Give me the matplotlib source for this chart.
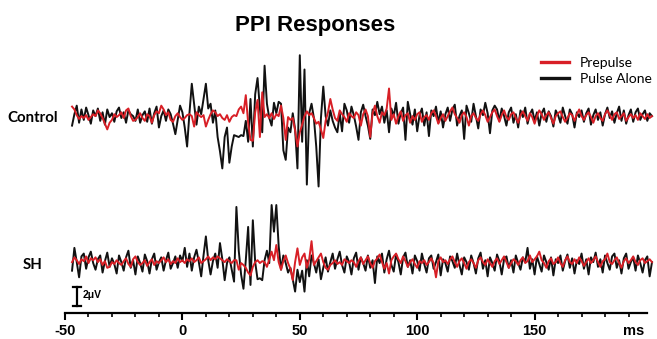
import numpy as np
import matplotlib
matplotlib.use("Agg")
import matplotlib.pyplot as plt
from matplotlib.lines import Line2D
from matplotlib.transforms import blended_transform_factory

plt.rcParams["axes.unicode_minus"] = False

# sample times (ms), one sample per ms
t_start, t_end = -47, 200

# Control, Pulse Alone (black), in uV
ctrl_pulse = [
    -0.8, 0.4, 1.3, -0.5, 0.9, -0.2, 1.1, 0.3, -0.6, 0.8,
    0.2, 1.0, -0.3, 0.6, -0.7, 0.9, 0.1, 0.5, -0.4, 0.7,
    1.1, 0.0, 0.6, -0.5, 0.8, 0.4, 0.2, -0.3, 0.9, -0.5,
    0.3, 0.7, -0.4, 1.0, -0.6, 0.5, 1.2, -1.0, 0.2, 0.8,
    -0.3, 0.9, 0.4, -0.6, -1.7, -0.2, 1.3, 0.6, -1.0, -3.0,
    0.5, 3.6, 1.5, -0.7, 1.2, 0.4, 2.0, 3.6, 1.0, 1.5,
    -0.5, 0.8, -2.0, -3.5, -5.3, -2.0, -1.0, -4.7, -3.0, -1.8,
    -1.9, -2.0, -1.8, -1.9, -0.3, -2.5, 2.0, -3.0, 2.5, 4.2,
    1.0, -1.5, 5.5, 1.5, 0.0, -0.8, 1.6, 0.5, 1.7, 1.5,
    -3.4, -4.4, -1.0, -1.5, 0.5, -1.2, -5.3, 6.6, -2.5, 5.1,
    -7.0, 0.5, 1.5, 0.0, -3.0, -7.2, 0.0, 3.3, 0.2, -0.8,
    0.8, -0.3, -1.0, -1.5, 0.5, -1.4, 1.5, 0.8, -0.5, 1.2,
    0.3, -0.9, -2.3, 0.6, 1.4, 0.2, -0.8, -2.2, 0.9, 0.3,
    1.7, 0.4, 1.2, -0.5, 0.8, -1.5, 1.0, 0.2, 1.6, -0.6,
    0.5, 1.1, -2.3, 1.7, 0.4, -0.7, 0.9, -1.4, 0.3, 1.0,
    -0.8, 0.6, -1.9, 0.8, 0.2, 1.2, -0.5, 0.7, -1.0, 0.4,
    1.1, -0.3, 0.9, 1.4, -0.8, 0.2, 0.8, -2.2, 1.3, 0.5,
    -0.4, 1.5, 0.2, -1.1, 0.9, 0.3, 1.6, 0.5, -1.6, 0.8,
    1.3, 0.9, -0.3, 1.0, 0.2, -0.8, 0.6, 1.1, -0.5, 0.4,
    -1.0, 0.8, 0.1, 1.1, -0.6, 0.4, 0.9, -0.3, 0.6, -0.8,
    0.5, 1.0, -0.4, 0.7, 0.2, -0.9, 0.8, 0.3, -0.5, 1.1,
    0.2, -0.6, 0.9, 0.4, -1.0, 0.6, 0.1, 0.8, -0.4, 0.5,
    1.0, -0.7, 0.3, 0.9, -0.2, 0.6, -0.8, 0.4, 1.1, 0.0,
    0.7, -0.5, 0.5, 1.2, -0.3, 0.8, -0.6, 0.3, 0.9, -0.4,
    0.6, 1.0, -0.2, 0.4, 0.8, -0.3, 0.5, 0.2,
]

# Control, Prepulse (red)
ctrl_prepulse = [
    1.2, 0.9, 0.3, -0.1, 0.2, 0.0, 0.3, -0.2, 0.1, 0.4,
    0.2, 0.8, 0.5, 0.0, -0.6, -1.2, -0.5, -0.2, 0.4, 0.1,
    0.3, 0.6, 0.0, 0.8, 1.0, 0.2, -0.3, -0.2, 0.1, 0.5,
    0.0, -0.3, 0.4, 0.2, -0.5, 0.3, 0.7, 0.5, 1.3, 0.9,
    0.3, 0.6, -0.2, -0.4, 0.2, 0.5, 0.1, -0.2, 0.0, 0.3,
    0.4, 0.2, -0.9, 0.6, 0.3, 0.1, 0.3, -0.9, -0.2, 0.4,
    0.8, 0.6, 0.2, 0.4, 0.0, -0.2, 0.3, -0.4, 0.1, 0.3,
    0.2, 0.9, 1.2, 0.5, 2.4, -0.5, -2.3, -2.4, 0.6, 1.9,
    -2.0, 2.7, 0.1, 0.4, 0.0, 0.5, -0.1, 0.4, 0.2, 1.3,
    0.0, -2.3, 0.1, -0.2, 0.0, -1.3, -3.0, -1.5, -0.7, 0.2,
    0.7, 0.3, 0.5, 0.0, -0.6, -0.4, -1.2, -2.1, -0.3, 0.6,
    2.0, 0.9, 0.0, -0.3, 0.8, 0.4, 0.1, -0.4, 0.5, 0.2,
    0.0, 0.6, 0.3, -0.8, 0.4, 0.9, 0.2, -2.0, 0.5, 1.3,
    0.2, -0.5, 0.6, 0.3, 1.0, 3.1, -0.2, 0.4, -0.6, 0.2,
    0.7, -0.3, 0.3, 0.5, -0.5, 0.2, -0.2, 0.4, 0.6, -0.4,
    0.1, 0.3, -0.2, 0.5, 0.8, 0.2, -0.6, 0.0, 0.4, -0.3,
    0.2, 0.7, 1.1, 0.4, 0.0, -0.5, 0.3, 0.6, 0.1, -0.8,
    0.2, 0.5, 0.0, -0.3, 0.4, 0.8, 0.3, -0.4, 0.1, 0.6,
    0.9, 0.2, -0.4, 0.3, 0.8, 0.1, -0.2, 0.4, 0.6, 0.0,
    -0.5, 0.3, 0.7, 0.2, -0.3, 0.5, 0.1, -0.6, 0.2, 0.8,
    0.4, -0.2, 0.3, 0.6, 0.0, -0.6, 0.2, 0.5, 0.7, 0.1,
    -0.4, 0.0, 0.5, 0.3, -0.3, 0.4, 0.9, 0.2, -0.2, 0.3,
    0.6, 0.1, -0.5, 0.2, 0.5, 0.0, -0.3, 0.4, 0.8, 0.3,
    -0.2, 0.4, 0.6, -0.1, 0.2, 0.5, -0.3, 0.1, 0.4, 0.0,
    0.3, -0.2, 0.5, 0.2, -0.1, 0.4, 0.0, 0.2,
]

# SH, Pulse Alone (black)
sh_pulse = [
    -0.6, 1.8, 0.3, -1.3, 0.9, 1.2, -0.4, 0.8, 1.4, 0.2,
    -0.5, 0.6, 1.0, -0.8, 0.4, 1.3, -0.2, 0.7, 0.1, -0.9,
    1.0, 0.3, -0.6, 0.8, 1.5, -0.3, 0.5, -1.0, 0.9, 0.2,
    -0.7, 1.1, 0.4, -0.9, 0.6, 1.2, -0.5, 0.3, 0.8, -0.6,
    0.5, 1.3, -0.4, 0.2, 0.9, -0.3, 1.0, 0.4, 1.8, -0.2,
    1.2, -0.6, 0.8, 1.6, 0.3, -1.2, 1.0, 3.0, 0.5, -1.0,
    0.4, 1.2, -0.3, 2.3, 0.6, -1.6, 0.2, 0.8, -0.5, -1.75,
    6.1, 1.5, -1.0, -2.5, 0.5, 4.0, -2.1, 4.7, 0.3, -1.5,
    -1.4, -1.6, 0.5, 1.5, 0.2, 6.3, 3.5, 6.3, 2.0, -0.5,
    1.0, 0.2, -0.8, -0.3, -1.5, -2.8, -0.5, -1.8, -0.6, -2.8,
    0.5, -1.2, 1.0, 0.2, -0.8, 0.6, -1.5, -0.3, 0.8, -0.7,
    0.3, 1.2, -0.4, 0.6, 1.4, 0.0, -0.8, 0.9, 0.3, -1.0,
    0.7, 1.3, -0.5, 0.8, 0.2, -0.6, 1.0, -0.3, 0.5, -1.9,
    0.9, 0.2, 1.2, -0.8, 0.6, 1.5, 0.0, -0.7, 1.1, 0.3,
    -1.0, 0.8, 1.3, -0.2, 0.5, -0.9, 1.0, 0.4, -0.6, 1.2,
    0.1, -0.8, 0.7, 1.0, -0.4, 0.3, 1.1, -1.1, 0.6, 0.2,
    -0.7, 0.9, 0.4, -0.3, 1.2, 0.0, -1.0, 0.8, 0.3, -0.5,
    1.0, 0.2, -0.9, 0.7, 1.3, -0.4, 0.5, -1.2, 0.8, 0.2,
    -0.6, 1.1, 0.4, -1.0, 0.6, 0.9, -0.3, 0.5, -0.8, 1.0,
    0.2, -0.5, 0.8, 0.3, 1.8, -0.4, 0.6, -1.0, 0.9, 0.1,
    -0.7, 1.0, 0.3, -0.5, 0.8, -1.1, 0.6, 0.2, 1.0, -0.6,
    0.4, 1.1, -0.3, 0.7, -0.9, 0.5, 0.1, 1.2, -0.4, 0.6,
    -1.0, 0.8, 0.3, 1.3, -0.2, 0.6, -0.8, 1.0, 0.2, -0.5,
    0.9, 1.2, -0.3, 0.5, -0.9, 0.7, 1.2, -0.4, 0.3, 0.8,
    -0.6, 1.0, 0.2, -0.8, 0.5, 0.9, -1.2, 0.3,
]

# SH, Prepulse (red)
sh_prepulse = [
    0.3, 0.8, 0.5, 0.1, 0.6, 0.4, 0.9, 0.2, 0.7, 0.5,
    0.8, 0.3, 0.6, 0.0, 0.4, -0.3, -0.2, 0.3, 0.1, 0.5,
    0.2, 0.0, 0.4, 0.7, 0.1, -0.2, 0.6, 0.9, 0.3, 0.0,
    0.2, 0.5, -0.1, 0.3, 0.6, 0.0, 0.4, 0.2, 0.5, 0.8,
    0.3, 0.6, 0.1, 0.4, 0.2, 0.7, 0.3, 0.5, 0.2, 0.6,
    0.4, 0.7, 0.3, 0.5, 0.8, 0.2, 0.4, 0.6, 0.9, 0.5,
    0.8, 0.6, 0.9, 0.7, 0.5, 0.3, 0.6, 0.4, 0.2, 0.5,
    0.5, -0.5, 0.2, 0.0, -0.3, -0.8, -1.1, -0.2, 0.3, 0.5,
    0.2, 0.4, 0.3, -0.2, 0.6, 1.4, 0.5, 2.1, 0.3, -0.5,
    0.4, 1.0, 0.2, -0.4, -1.6, 0.3, 1.75, 0.0, 0.8, 1.2,
    -0.3, 0.6, 2.5, 0.0, 0.4, 0.8, 1.2, 0.3, -0.3, -0.5,
    0.0, 0.2, 0.5, 0.1, 0.3, 0.0, 0.6, 0.4, 0.2, 0.5,
    0.3, -0.2, 0.4, 0.8, 0.1, 0.5, 0.9, 0.2, -0.3, 0.4,
    0.7, 1.1, 0.3, -0.4, 0.2, -0.9, 0.5, 0.9, 1.2, 0.6,
    0.2, 0.9, 0.4, -0.2, 0.3, 0.6, 0.1, -0.3, 0.4, 0.2,
    0.5, 0.0, 0.3, 0.7, 0.2, -1.3, 0.4, 0.8, 0.3, 0.5,
    0.1, 0.6, 0.9, 0.3, -0.2, 0.4, 0.7, 0.2, -0.4, 0.3,
    0.6, 0.2, -0.3, 0.5, 0.8, 0.3, 0.0, 0.6, 0.2, -0.2,
    0.4, 0.7, 0.1, 0.5, 0.9, 0.3, -0.3, 0.2, 0.6, 0.4,
    0.0, 0.5, 0.8, 0.2, 0.4, 1.0, 0.3, 0.6, 0.9, 1.4,
    0.5, 0.2, -0.3, 0.4, 0.7, 0.1, 0.3, 0.8, 0.2, -0.2,
    0.5, 0.9, 0.3, 0.1, 0.6, 0.2, 0.8, 0.4, -0.1, 0.3,
    0.7, 0.2, 0.5, 0.9, 0.3, -0.2, 0.4, 0.6, 1.2, 0.3,
    0.1, 0.5, 0.8, 0.2, -0.3, 0.4, 0.7, 0.2, 0.5, 0.9,
    0.3, 0.0, 0.5, 0.7, 0.2, 0.4, 0.6, 0.3,
]

group_names = ["Control", "SH"]
group_offsets = [20.5, 5.05]   # vertical baseline of each group, uV above the axis
series_labels = ["Prepulse", "Pulse Alone"]
series_colors = ["#d81f26", "#111111"]
x_ticks = [-50, 0, 50, 100, 150]
scale_bar_uv = 2

t = np.arange(t_start, t_end + 1)

fig = plt.figure(figsize=(6.57, 3.39), dpi=100)
ax = fig.add_axes([65 / 657, 1 - 313 / 339, 587 / 657, 273 / 339])

groups = [(ctrl_prepulse, ctrl_pulse), (sh_prepulse, sh_pulse)]
for (pre, pa), off in zip(groups, group_offsets):
    ax.plot(t, np.array(pa) + off, color=series_colors[1], lw=1.4, clip_on=False)
    ax.plot(t, np.array(pre) + off, color=series_colors[0], lw=1.4, clip_on=False)

ax.set_xlim(-50, 200)
ax.set_ylim(0, 28.7)
for s in ["top", "right", "left"]:
    ax.spines[s].set_visible(False)
ax.spines["bottom"].set_linewidth(1.6)
ax.spines["bottom"].set_bounds(-50, 198)
ax.set_yticks([])
ax.set_xticks(x_ticks)
ax.set_xticks(np.arange(-50, 200, 10), minor=True)
ax.tick_params(axis="x", which="major", length=5, width=1.5, pad=3)
ax.tick_params(axis="x", which="minor", length=3, width=1.2)
for lab in ax.get_xticklabels():
    lab.set_fontfamily("Liberation Sans")
    lab.set_fontweight("bold")
    lab.set_fontsize(10.5)
ax.annotate("ms", xy=(192, 0), xycoords=ax.get_xaxis_transform(), xytext=(0, -8),
            textcoords="offset points", ha="center", va="top",
            fontfamily="Liberation Sans", fontweight="bold", fontsize=10.5)

# group labels
tr = blended_transform_factory(fig.transFigure, ax.transData)
for name, off in zip(group_names, group_offsets):
    ax.text(33 / 657, off, name, transform=tr, ha="center", va="center",
            fontfamily="Lato", fontweight="bold", fontsize=10.8)

# scale bar
sb_x, sb_y0 = -44.9, 0.75
ax.plot([sb_x, sb_x], [sb_y0, sb_y0 + scale_bar_uv], color="black", lw=1.6)
for yy in [sb_y0, sb_y0 + scale_bar_uv]:
    ax.plot([sb_x - 1.6, sb_x + 1.6], [yy, yy], color="black", lw=1.6)
ax.text(sb_x + 2.3, sb_y0 + scale_bar_uv * 0.55, f"{scale_bar_uv}\u03bcV", ha="left", va="center",
        fontfamily="Liberation Sans", fontweight="bold", fontsize=7.5)

# legend
handles = [Line2D([], [], color=c, lw=2.4) for c in series_colors]
fig.legend(handles, series_labels, loc="upper left", bbox_to_anchor=(541 / 657, 1 - 57 / 339),
           frameon=False, prop={"family": "Lato", "size": 10}, handlelength=2.0,
           handletextpad=0.8, labelspacing=0.3, borderpad=0, borderaxespad=0)

fig.suptitle("PPI Responses", x=315 / 657, y=1 - 15 / 339, va="top",
             fontfamily="Liberation Sans", fontweight="bold", fontsize=16)

fig.savefig("out.png", dpi=100)
